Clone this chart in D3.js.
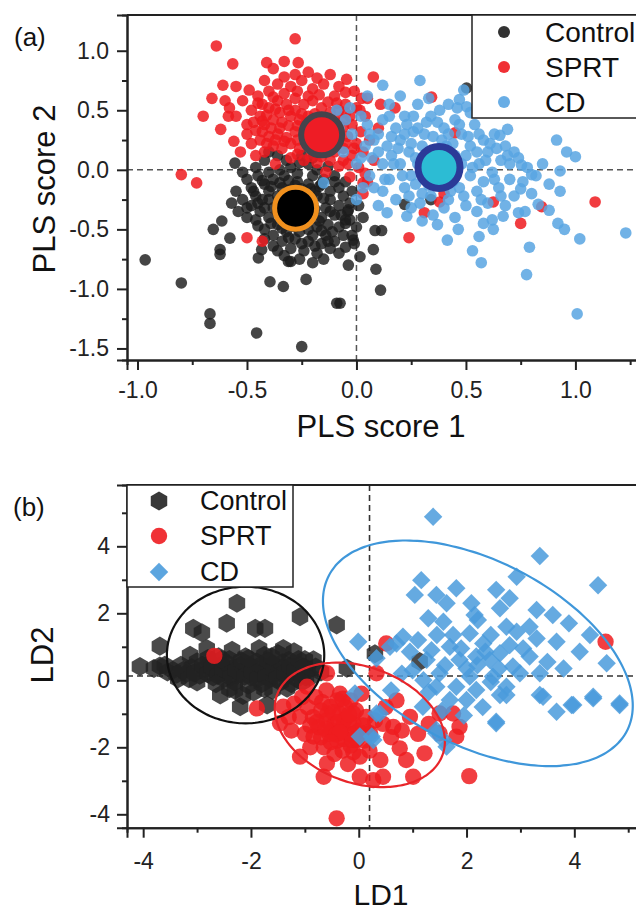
<!DOCTYPE html>
<html><head><meta charset="utf-8">
<script src="https://cdn.jsdelivr.net/npm/d3@7"></script>
<style>
html,body{margin:0;padding:0;background:#fff;}
svg{display:block;font-family:"Liberation Sans",Arial,sans-serif;}
</style></head>
<body><svg id="c" width="636" height="912"></svg>
<script>
// ---------------- DATA: panel (a) PLS scores ----------------
const groupsA = ["Control", "SPRT", "CD"];
const controlA = [
[-0.965,-0.756],[-0.80,-0.95],[-0.669,-1.21],[-0.669,-1.29],[-0.456,-1.37],[-0.25,-1.485],[-0.09,-1.12],
[-0.395,-0.94],[-0.334,-0.98],[-0.23,-0.92],[-0.037,-0.80],[0.016,-0.73],[-0.654,-0.50],[-0.615,-0.43],
[-0.578,-0.574],[-0.623,-0.67],[-0.623,-0.71],[-0.448,-0.74],[-0.433,-0.67],[-0.311,-0.77],[-0.555,0.056],
[-0.037,-0.336],[-0.03,-0.42],[-0.05,-0.45],[-0.015,-0.59],[0.085,-0.51],[0.115,-0.51],[0.077,-0.67],
[0.089,-0.835],[0.11,-1.01],[-0.075,-1.12],[0.503,0.687],[0.22,-0.29],[0.34,-0.25],
[-0.2,0.1],[-0.25,0.12],[-0.22,0.05],[-0.30,0.02],[-0.35,0.0],[-0.18,0.0],[-0.13,0.03],[-0.40,-0.02],
[-0.45,-0.05],[-0.50,-0.08],[-0.48,-0.15],[-0.42,-0.12],[-0.38,-0.08],[-0.33,-0.05],[-0.27,-0.03],
[-0.20,-0.05],[-0.15,-0.08],[-0.10,-0.05],[-0.05,-0.1],[-0.08,-0.15],[-0.12,-0.18],[-0.17,-0.14],
[-0.22,-0.12],[-0.28,-0.13],[-0.34,-0.15],[-0.40,-0.18],[-0.46,-0.22],[-0.52,-0.25],[-0.50,-0.32],
[-0.45,-0.28],[-0.40,-0.25],[-0.36,-0.22],[-0.30,-0.2],[-0.24,-0.2],[-0.18,-0.22],[-0.12,-0.25],
[-0.06,-0.22],[-0.03,-0.28],[-0.08,-0.3],[-0.14,-0.32],[-0.20,-0.28],[-0.26,-0.27],[-0.32,-0.3],
[-0.38,-0.32],[-0.44,-0.35],[-0.50,-0.4],[-0.46,-0.42],[-0.40,-0.4],[-0.34,-0.38],[-0.22,-0.38],
[-0.16,-0.4],[-0.10,-0.38],[-0.05,-0.42],[-0.08,-0.48],[-0.13,-0.46],[-0.18,-0.48],[-0.24,-0.45],
[-0.30,-0.44],[-0.36,-0.46],[-0.42,-0.5],[-0.38,-0.55],[-0.32,-0.52],[-0.26,-0.52],[-0.20,-0.55],
[-0.14,-0.55],[-0.10,-0.6],[-0.16,-0.62],[-0.22,-0.6],[-0.28,-0.58],[-0.34,-0.6],[-0.30,-0.66],
[-0.24,-0.68],[-0.18,-0.7],[-0.12,-0.66],[-0.05,-0.65],[-0.26,-0.75],[-0.20,-0.78],[-0.33,-0.72],
[-0.38,-0.64],[-0.02,-0.55],[-0.04,-0.35],[0.0,-0.48],[-0.40,0.15],[-0.36,0.12],[-0.42,0.08],
[-0.27,-0.10],[-0.31,-0.09],[-0.21,-0.16],[-0.25,-0.16],[-0.35,-0.11],[-0.43,-0.09],[-0.47,-0.18],
[-0.39,-0.14],[-0.31,-0.17],[-0.19,-0.18],[-0.15,-0.24],[-0.21,-0.24],[-0.27,-0.23],[-0.33,-0.25],
[-0.43,-0.25],[-0.48,-0.30],[-0.42,-0.32],[-0.36,-0.35],[-0.29,-0.35],[-0.19,-0.33],[-0.12,-0.35],
[-0.07,-0.38],[-0.17,-0.43],[-0.23,-0.42],[-0.33,-0.42],[-0.39,-0.45],[-0.45,-0.47],[-0.34,-0.49],
[-0.28,-0.48],[-0.22,-0.50],[-0.16,-0.51],[-0.11,-0.52],[-0.06,-0.55],[-0.25,-0.62],[-0.19,-0.64],
[-0.13,-0.60],[-0.31,-0.57],[-0.42,-0.58],[-0.08,-0.70],[-0.15,-0.75],[-0.36,-0.68],[-0.30,-0.77],
[-0.10,-0.10],[-0.16,-0.12],[-0.26,0.06],[-0.32,0.08],[-0.46,0.02],[-0.52,-0.02],[-0.55,-0.18],
[-0.54,-0.35],[-0.57,-0.28],[-0.02,-0.18],[0.01,-0.30],[-0.01,-0.62],[0.03,-0.40]
];
const sprtA = [
[-0.80,-0.04],[-0.73,-0.11],[-0.64,1.04],[-0.28,1.10],[-0.565,0.89],[-0.61,0.71],[-0.41,0.90],[-0.33,0.91],
[-0.266,0.90],[-0.50,-0.57],[-0.43,-0.60],[-0.62,0.34],[-0.585,0.45],[-0.56,0.24],
[0.077,0.78],[0.11,0.55],[0.176,0.52],[0.343,0.61],[0.45,0.31],[1.09,-0.27],[0.846,-0.31],[0.75,-0.45],
[0.625,-0.27],[0.31,-0.36],[0.24,-0.57],[0.38,-0.27],[0.40,-0.20],[0.024,0.60],[0.016,0.50],[-0.045,0.76],
[0.03,-0.20],[0.03,-0.11],
[-0.45,0.62],[-0.40,0.66],[-0.36,0.72],[-0.33,0.78],[-0.30,0.70],[-0.25,0.75],[-0.20,0.68],[-0.15,0.72],
[-0.10,0.62],[-0.05,0.55],[-0.48,0.50],[-0.44,0.45],[-0.40,0.52],[-0.36,0.58],[-0.32,0.55],[-0.28,0.60],
[-0.24,0.55],[-0.20,0.58],[-0.16,0.52],[-0.12,0.48],[-0.08,0.50],[-0.03,0.45],[-0.50,0.38],[-0.46,0.33],
[-0.42,0.38],[-0.38,0.42],[-0.34,0.40],[-0.30,0.45],[-0.26,0.42],[-0.22,0.45],[-0.18,0.40],[-0.14,0.38],
[-0.10,0.42],[-0.06,0.36],[-0.02,0.38],[0.02,0.32],[-0.48,0.22],[-0.44,0.25],[-0.40,0.28],[-0.36,0.30],
[-0.32,0.27],[-0.28,0.32],[-0.24,0.30],[-0.20,0.34],[-0.16,0.28],[-0.12,0.30],[-0.08,0.26],[-0.04,0.28],
[0.0,0.22],[-0.46,0.12],[-0.42,0.15],[-0.38,0.20],[-0.34,0.18],[-0.30,0.22],[-0.26,0.18],[-0.22,0.22],
[-0.18,0.16],[-0.14,0.20],[-0.10,0.15],[-0.06,0.18],[-0.02,0.12],[0.03,0.15],[-0.30,0.10],[-0.24,0.08],
[-0.18,0.06],[-0.12,0.08],[-0.08,0.03],[-0.04,0.05],[0.01,0.02],[0.04,-0.03],[-0.14,-0.02],[-0.03,-0.06],
[0.05,-0.10],[-0.52,0.58],[-0.55,0.45],[-0.38,0.85],[-0.22,0.82],[-0.12,0.80],[-0.08,0.70],[-0.28,0.50],
[-0.35,0.48],[-0.43,0.55],[0.04,0.45],[0.05,0.60],[-0.01,0.66],[-0.50,0.30],[-0.53,0.15],[-0.37,0.05],
[0.08,0.08],[0.06,0.25],[0.10,0.35],[-0.60,0.58],[-0.55,0.70],
[-0.43,0.41],[-0.39,0.35],[-0.35,0.35],[-0.31,0.37],[-0.27,0.37],[-0.23,0.39],[-0.19,0.47],[-0.25,0.47],
[-0.31,0.50],[-0.37,0.51],[-0.41,0.46],[-0.45,0.56],[-0.38,0.61],[-0.33,0.64],[-0.27,0.66],[-0.22,0.62],
[-0.17,0.63],[-0.13,0.57],[-0.09,0.56],[-0.05,0.48],[-0.06,0.42],[-0.11,0.35],[-0.15,0.33],[-0.41,0.22],
[-0.37,0.25],[-0.43,0.32],[-0.47,0.40],[-0.27,0.25],[-0.33,0.24],[-0.21,0.27],[-0.10,0.23],[-0.05,0.22],
[-0.16,0.11],[-0.21,0.11],[-0.27,0.13],[-0.06,0.08],[-0.01,0.18],[-0.58,0.52],[-0.49,0.67],[-0.42,0.75],
[-0.28,0.80],[-0.18,0.77],[-0.05,0.65],[0.00,0.52],[-0.70,0.45],[-0.66,0.60]
];
const cdA = [
[1.008,-1.21],[1.23,-0.53],[0.777,-0.88],[0.79,-0.65],[1.02,-0.58],[0.914,0.25],[0.96,0.15],[1.0,0.11],
[0.93,-0.01],[0.93,-0.18],[0.83,-0.29],[0.88,-0.34],[0.92,-0.45],[0.95,-0.50],[0.57,-0.78],[0.53,-0.68],
[0.415,-0.59],[0.465,-0.50],[0.29,0.75],[0.12,0.71],[0.69,0.34],[0.655,0.29],[0.754,0.04],[0.80,-0.04],
[0.74,-0.36],[0.77,-0.35],[0.67,-0.39],[0.625,-0.50],[0.56,-0.56],[0.14,-0.36],[0.23,-0.39],[0.30,-0.43],
[0.37,-0.46],[0.47,0.59],[0.49,0.67],[0.503,0.53],
[-0.09,0.50],[-0.03,0.52],[-0.15,-0.11],[0.0,-0.25],[-0.05,0.42],[-0.02,0.30],[0.02,0.45],[0.05,0.38],
[0.04,0.20],[0.07,0.10],[0.06,-0.05],[0.08,-0.15],[0.10,0.30],[0.12,0.42],[0.14,0.20],[0.12,0.05],
[0.15,-0.08],[0.16,0.12],[0.18,0.35],[0.20,0.25],[0.20,0.05],[0.22,-0.15],[0.22,0.45],[0.24,0.15],
[0.25,-0.05],[0.26,0.32],[0.28,0.55],[0.28,0.05],[0.30,0.20],[0.30,-0.20],[0.32,0.40],[0.32,-0.05],
[0.34,0.12],[0.35,0.28],[0.36,-0.12],[0.38,0.50],[0.38,0.18],[0.40,-0.02],[0.40,0.35],[0.42,0.10],
[0.42,-0.25],[0.44,0.22],[0.45,0.42],[0.46,0.0],[0.47,-0.15],[0.48,0.30],[0.50,0.12],[0.50,-0.30],
[0.52,0.20],[0.52,-0.05],[0.54,0.38],[0.55,-0.18],[0.56,0.05],[0.58,0.25],[0.58,-0.10],[0.60,0.15],
[0.60,-0.28],[0.62,-0.02],[0.63,0.30],[0.65,-0.15],[0.66,0.08],[0.68,0.20],[0.70,-0.08],[0.72,-0.22],
[0.74,0.10],[0.76,-0.10],[0.78,0.02],[0.80,-0.20],[0.82,-0.05],[0.85,0.05],[0.88,-0.12],[0.18,-0.25],
[0.25,-0.32],[0.35,-0.38],[0.45,-0.40],[0.55,-0.35],[0.62,-0.42],[0.10,-0.30],[0.15,0.55],[0.20,0.62],
[0.33,0.60],[0.42,0.55],[0.05,0.62],[0.26,0.45],[0.15,0.45],[0.08,0.25],[0.30,0.10],[0.44,-0.10],
[0.36,0.05],[0.48,0.05],[0.27,-0.12],[0.56,0.30],[0.64,0.18],[0.70,0.05],[0.52,0.48],[0.46,0.52],
[0.34,-0.22],[0.40,-0.32],[0.58,-0.45],[0.68,-0.30],[0.22,0.30],[0.12,-0.18],[-0.06,0.15],[-0.08,0.35],
[0.0,0.05],[0.03,-0.15],
[0.17,0.05],[0.19,0.18],[0.21,-0.05],[0.23,0.38],[0.25,0.22],[0.27,0.10],[0.29,-0.28],[0.31,0.30],
[0.33,-0.13],[0.37,0.40],[0.39,0.25],[0.41,0.20],[0.43,-0.18],[0.45,0.12],[0.47,0.38],[0.49,-0.22],
[0.51,0.28],[0.53,0.02],[0.55,0.15],[0.57,-0.25],[0.59,0.08],[0.61,0.22],[0.63,-0.08],[0.66,-0.22],
[0.69,0.12],[0.72,0.15],[0.75,-0.16],[0.10,0.15],[0.13,-0.08],[0.06,0.30],[0.02,0.10],[0.16,0.28],
[0.24,-0.22],[0.34,0.45],[0.28,0.35],[0.42,0.30]
];
// group centroids (x, y)
const centroidsA = [[-0.278,-0.322],[-0.159,0.294],[0.377,0.02]];
const xTicksA = [-1.0,-0.5,0.0,0.5,1.0];
const xMinorA = [-0.75,-0.25,0.25,0.75,1.25];
const yTicksA = [-1.5,-1.0,-0.5,0.0,0.5,1.0];
const yMinorA = [-1.25,-0.75,-0.25,0.25,0.75];

// ---------------- DATA: panel (b) LDA ----------------
const groupsB = ["Control", "SPRT", "CD"];
const controlB = [
[-4.06,0.41],[-3.69,0.43],[-3.69,1.02],[-3.07,1.55],[-2.91,1.42],[-2.26,2.30],[-2.45,1.70],[-1.92,1.55],
[-1.74,1.55],[-1.09,1.90],[-0.41,1.65],[-3.13,0.75],[-2.82,0.95],[-2.57,-0.44],[-2.20,-0.79],[-1.70,-0.74],
[-1.33,-0.24],[-0.84,0.61],[-0.22,0.36],[0.30,0.79],[1.13,0.56],
[-3.45,0.30],[-3.30,0.45],[-3.20,0.20],[-3.10,0.38],[-3.00,0.55],[-2.95,0.15],[-2.85,0.35],[-2.75,0.50],
[-2.70,0.10],[-2.65,0.28],[-2.55,0.45],[-2.50,0.05],[-2.45,0.22],[-2.40,0.62],[-2.35,0.35],[-2.30,-0.05],
[-2.25,0.15],[-2.20,0.45],[-2.15,0.28],[-2.10,0.70],[-2.05,-0.15],[-2.00,0.10],[-1.95,0.38],[-1.90,0.55],
[-1.85,0.20],[-1.80,-0.10],[-1.75,0.75],[-1.70,0.30],[-1.65,0.05],[-1.60,0.48],[-1.55,0.22],[-1.50,0.80],
[-1.45,-0.05],[-1.40,0.38],[-1.35,0.12],[-1.30,0.60],[-1.25,0.28],[-1.20,0.85],[-1.15,0.05],[-1.10,0.45],
[-1.05,0.20],[-1.00,0.62],[-0.95,0.30],[-0.90,0.10],[-0.80,0.40],[-0.70,0.25],[-2.60,0.70],[-2.80,0.65],
[-3.00,-0.05],[-2.40,-0.25],[-1.95,-0.35],[-1.60,-0.30],[-2.15,-0.45],[-1.85,0.95],[-2.35,0.90],[-1.40,0.95],
[-3.35,0.05],[-3.55,0.25],
[-3.38,0.18],[-3.25,0.30],[-3.15,0.05],[-3.05,0.22],[-2.90,0.45],[-2.80,0.20],[-2.72,0.38],[-2.62,0.15],
[-2.52,0.32],[-2.42,0.48],[-2.38,0.10],[-2.28,0.30],[-2.18,0.58],[-2.12,0.12],[-2.02,0.42],[-1.98,0.25],
[-1.88,0.05],[-1.82,0.45],[-1.72,0.12],[-1.68,0.58],[-1.58,0.32],[-1.52,0.05],[-1.42,0.52],[-1.38,0.22],
[-1.28,0.42],[-1.18,0.30],[-1.12,0.62],[-1.02,0.40],[-0.98,0.10],[-2.55,0.62],[-2.05,0.65],[-1.62,0.70],
[-1.75,-0.25],[-2.30,-0.30],[-2.65,-0.10],[-3.60,0.45],[-3.80,0.35],[-1.25,-0.10],[-1.05,-0.05]
];
const sprtB = [
[-0.41,-4.12],[2.05,-2.86],[4.58,1.15],[-2.68,0.73],[-1.89,-0.84],[-1.46,-1.28],[-1.40,-0.79],[-1.09,-1.09],
[-1.09,-2.28],[-0.65,-2.88],[-0.59,-2.48],[0.02,-2.88],[-0.84,-1.68],[-0.47,-1.58],[-0.28,-1.19],[-0.53,-0.79],
[-0.96,-0.19],[-0.59,0.21],[-0.10,-0.99],[-0.04,-1.78],[0.02,-2.28],[0.21,-1.58],[0.40,-2.38],[0.27,-2.98],
[0.51,1.10],[0.14,-1.09],[0.64,-1.39],[0.95,-1.09],[1.50,-0.99],[1.75,-0.99],[1.87,-1.39],[1.81,-1.68],
[1.22,-2.18],[0.76,-2.03],[0.88,-2.38],[0.45,-2.88],[1.01,-2.88],[1.50,-1.58],[0.33,0.21],
[-0.80,-0.50],[-0.70,-0.90],[-0.60,-1.20],[-0.50,-1.50],[-0.40,-1.80],[-0.30,-1.40],[-0.20,-1.60],
[-0.10,-1.30],[0.0,-1.50],[-0.25,-0.80],[-0.35,-1.00],[-0.45,-1.30],[-0.55,-1.60],[-0.65,-2.00],
[-0.75,-1.40],[-0.85,-1.10],[-0.95,-0.80],[-1.05,-0.50],[-1.20,-0.70],[-0.15,-0.60],[-0.05,-0.90],
[0.10,-1.80],[0.20,-2.10],[0.30,-1.20],[-0.30,-2.10],[-0.20,-2.50],[-0.45,-2.20],[-0.15,-1.95],
[-0.70,-1.70],[-0.90,-2.00],[-1.25,-1.50],[-0.35,-0.40],[-0.60,-0.30],[0.05,-0.40],[0.50,-0.80],
[0.60,-1.70],[0.80,-1.50],[-0.25,-1.15],[-0.40,-0.60],[-1.30,-1.10],[-0.10,-2.15],[1.10,-1.60],
[0.45,-1.30],[0.70,-0.60],[1.30,-1.30],
[-0.58,-1.00],[-0.48,-0.95],[-0.38,-1.25],[-0.18,-1.25],[-0.08,-1.60],[0.08,-1.35],[-0.62,-1.45],
[-0.42,-1.62],[-0.28,-1.75],[-0.12,-1.78],[-0.35,-1.55],[-0.52,-1.85],[-0.78,-1.25],[-0.18,-1.02],
[0.15,-1.55],[-0.68,-0.65],[-0.90,-1.35],[-1.00,-1.60],[-0.30,-0.55]
];
const cdB = [
[1.38,4.88],[3.36,3.71],[4.44,2.84],[2.93,3.09],[1.16,2.99],[1.04,2.55],[1.44,2.55],[1.81,2.75],[2.55,2.70],
[2.09,2.30],[2.62,2.15],[3.60,1.95],[1.63,2.30],[1.29,1.85],[1.57,1.75],[2.21,1.80],[2.74,1.60],[3.17,1.60],
[2.93,1.45],[3.67,1.15],[4.29,1.35],[4.60,0.51],[4.84,-0.74],[4.35,-0.54],[3.98,-0.74],[3.67,-0.94],
[3.42,-0.49],[2.55,-1.24],[2.62,-0.44],[3.36,0.21],[3.17,0.71],[0.82,1.30],[0.58,1.00],[0.95,0.85],
[1.26,0.61],[1.69,1.00],[2.06,1.40],[2.31,1.10],[2.62,0.81],[1.87,0.61],[2.18,0.71],[1.50,0.21],[2.06,0.11],
[1.44,-0.19],[1.81,-0.19],[2.18,-0.29],[1.69,-0.59],[2.0,-0.59],[1.19,-0.79],[1.57,-1.78],[1.44,-1.48],
[0.39,-0.99],[0.27,-1.78],[0.02,-1.68],[2.86,0.41],[2.99,0.21],[2.43,0.61],[2.49,0.11],[2.74,-0.19],
[-0.01,1.15],[0.70,1.10],[0.33,0.66],[-0.07,-0.39],[0.33,-0.99],[0.24,-1.68],[2.55,-1.28],[2.74,-0.44],
[3.36,-0.44],[3.95,-0.74],[4.35,-0.49],[4.84,-0.69],[1.44,-1.58],[1.63,-1.98],
[1.0,0.30],[1.2,0.0],[1.1,1.2],[1.35,0.9],[1.6,0.45],[1.75,1.35],[1.9,0.95],[2.0,0.35],[2.2,0.45],
[2.35,0.85],[2.45,1.35],[2.6,0.35],[2.8,1.05],[3.05,0.95],[3.3,1.25],[3.5,0.55],[3.8,0.35],[4.1,0.85],
[1.3,-0.35],[1.55,-0.9],[2.3,-0.8],[0.8,0.2],[0.6,-0.3],[2.15,1.95],[2.8,2.45],[3.9,1.7],[3.3,2.1],
[1.45,1.35],[2.45,-0.05],[1.95,-1.05]
];
// confidence ellipses: centre [x,y], conjugate semi-axis vectors u, v (data units)
const ellipseCentres = [[-2.10,0.755],[0.02,-1.33],[2.21,0.806]];
const ellipseU = [[1.46,0],[1.535,-0.899],[2.763,-2.325]];
const ellipseV = [[0,2.04],[-0.368,-1.627],[-0.792,-2.436]];
const refLinesB = [0.2, 0.13]; // vertical LD1, horizontal LD2
const xTicksB = [-4,-2,0,2,4];
const xMinorB = [-3,-1,1,3,5];
const yTicksB = [-4,-2,0,2,4];
const yMinorB = [-3,-1,1,3,5];

// ---------------- DRAWING ----------------
const svg = d3.select("#c");
const colA = ["#1c1c1c","#ee1a1f","#58a4e2"];
const colB = ["#222222","#ee1c20","#4a9bdc"];
const fmt1 = v => d3.format(".1f")(v).replace("\u2212","-");
const fmt0 = v => d3.format("d")(v).replace("\u2212","-");

function axes(g, x, y, xt, xm, yt, ym, f, xpad, ypad){
  const xa = g.append("g").attr("transform",`translate(0,${y.range()[0]})`)
    .call(d3.axisBottom(x).tickValues(xt).tickFormat(f).tickSize(10).tickPadding(xpad));
  const xm2 = g.append("g").attr("transform",`translate(0,${y.range()[0]})`)
    .call(d3.axisBottom(x).tickValues(xm).tickFormat("").tickSize(5));
  const ya = g.append("g").attr("transform",`translate(${x.range()[0]},0)`)
    .call(d3.axisLeft(y).tickValues(yt).tickFormat(f).tickSize(10).tickPadding(ypad));
  const ym2 = g.append("g").attr("transform",`translate(${x.range()[0]},0)`)
    .call(d3.axisLeft(y).tickValues(ym).tickFormat("").tickSize(5));
  [xa,xm2,ya,ym2].forEach(a=>{
    a.select(".domain").attr("stroke","#222").attr("stroke-width",2);
    a.selectAll(".tick line").attr("stroke","#222").attr("stroke-width",2);
    a.selectAll("text").attr("font-size",23).attr("fill","#222")
      .attr("font-family","'Liberation Sans',Arial,sans-serif");
  });
  g.append("line").attr("x1",x.range()[0]).attr("x2",x.range()[1])
    .attr("y1",y.range()[1]).attr("y2",y.range()[1]).attr("stroke","#222").attr("stroke-width",2);
}

// ===== Panel (a)
const xA = d3.scaleLinear().domain([-1.048,1.295]).range([127,640]);
const yA = d3.scaleLinear().domain([-1.597,1.30]).range([360,15]);
const gA = svg.append("g");
gA.append("line").attr("x1",xA(0)).attr("x2",xA(0)).attr("y1",yA.range()[1]).attr("y2",yA.range()[0])
  .attr("stroke","#555").attr("stroke-width",1.5).attr("stroke-dasharray","6,4");
gA.append("line").attr("x1",xA.range()[0]).attr("x2",xA.range()[1]).attr("y1",yA(0)).attr("y2",yA(0))
  .attr("stroke","#555").attr("stroke-width",1.5).attr("stroke-dasharray","6,4");
[controlA, sprtA, cdA].forEach((pts,i)=>{
  gA.append("g").selectAll("circle").data(pts).join("circle")
    .attr("cx",d=>xA(d[0])).attr("cy",d=>yA(d[1])).attr("r",5.8)
    .attr("fill",colA[i]).attr("fill-opacity",i===0?0.82:0.85);
});
const cFill = ["#000000","#ee1c25","#2cbcd4"];
const cStroke = ["#f0901e","#44444c","#2b3a98"];
const cR = [21,20.5,21];
const cW = [5,6,7];
gA.append("g").selectAll("circle").data(centroidsA).join("circle")
  .attr("cx",d=>xA(d[0])).attr("cy",d=>yA(d[1])).attr("r",(d,i)=>cR[i])
  .attr("fill",(d,i)=>cFill[i]).attr("stroke",(d,i)=>cStroke[i]).attr("stroke-width",(d,i)=>cW[i]);
axes(gA, xA, yA, xTicksA, xMinorA, yTicksA, yMinorA, fmt1, 12, 8);
const lgA = gA.append("g");
lgA.append("rect").attr("x",472).attr("y",15).attr("width",200).attr("height",103)
  .attr("fill","#fff").attr("stroke","#222").attr("stroke-width",1.5);
groupsA.forEach((name,i)=>{
  const yy = [32,67,102][i];
  lgA.append("circle").attr("cx",504).attr("cy",yy).attr("r",6).attr("fill",colA[i]).attr("fill-opacity",0.9);
  lgA.append("text").attr("x",545).attr("y",yy+10).attr("font-size",28).attr("fill","#111").text(name);
});
svg.append("text").attr("x",14).attr("y",46).attr("font-size",26).attr("fill","#111").text("(a)");
svg.append("text").attr("transform","translate(55,189) rotate(-90)").attr("text-anchor","middle")
  .attr("font-size",31).attr("fill","#111").text("PLS score 2");
svg.append("text").attr("x",381).attr("y",437).attr("text-anchor","middle")
  .attr("font-size",31).attr("fill","#111").text("PLS score 1");

// ===== Panel (b)
const xB = d3.scaleLinear().domain([-4.30,5.20]).range([127,639]);
const yB = d3.scaleLinear().domain([-4.40,5.83]).range([827.7,485]);
const gB = svg.append("g");
gB.append("line").attr("x1",xB(refLinesB[0])).attr("x2",xB(refLinesB[0])).attr("y1",yB.range()[1]).attr("y2",yB.range()[0])
  .attr("stroke","#333").attr("stroke-width",1.6).attr("stroke-dasharray","6,4");
gB.append("line").attr("x1",xB.range()[0]).attr("x2",xB.range()[1]).attr("y1",yB(refLinesB[1])).attr("y2",yB(refLinesB[1]))
  .attr("stroke","#333").attr("stroke-width",1.6).attr("stroke-dasharray","6,4");
const hexagon = { draw(ctx, size){ const r = Math.sqrt(size*2/(3*Math.sqrt(3)));
  for(let k=0;k<6;k++){ const a = Math.PI/2 + k*Math.PI/3; const px=r*Math.cos(a), py=r*Math.sin(a);
    if(k===0) ctx.moveTo(px,py); else ctx.lineTo(px,py);} ctx.closePath(); } };
const squareDiamond = { draw(ctx, size){ const h = Math.sqrt(size/2);
  ctx.moveTo(0,-h); ctx.lineTo(h,0); ctx.lineTo(0,h); ctx.lineTo(-h,0); ctx.closePath(); } };
const symB = [d3.symbol().type(hexagon).size(235), d3.symbol().type(d3.symbolCircle).size(210),
              d3.symbol().type(squareDiamond).size(170)];
[controlB, sprtB, cdB].forEach((pts,i)=>{
  gB.append("g").selectAll("path").data(pts).join("path")
    .attr("transform",d=>`translate(${xB(d[0])},${yB(d[1])})`).attr("d",symB[i]())
    .attr("fill",colB[i]).attr("fill-opacity",i===0?0.82:0.85);
});
const eCol = ["#111111","#e8252a","#3f97da"];
ellipseCentres.forEach((c,i)=>{
  const pts = d3.range(0,360,3).map(t=>{ const a=t*Math.PI/180;
    return [xB(c[0]+ellipseU[i][0]*Math.cos(a)+ellipseV[i][0]*Math.sin(a)),
            yB(c[1]+ellipseU[i][1]*Math.cos(a)+ellipseV[i][1]*Math.sin(a))]; });
  gB.append("path").attr("d",d3.line().curve(d3.curveCardinalClosed)(pts))
    .attr("fill","none").attr("stroke",eCol[i]).attr("stroke-width",2.2);
});
axes(gB, xB, yB, xTicksB, xMinorB, yTicksB, yMinorB, fmt0, 15, 7);
const lgB = gB.append("g");
lgB.append("rect").attr("x",127).attr("y",485).attr("width",166).attr("height",102)
  .attr("fill","#fff").attr("stroke","#222").attr("stroke-width",1.5);
groupsB.forEach((name,i)=>{
  const yy = [501,536,572][i];
  lgB.append("path").attr("transform",`translate(159,${yy})`).attr("d",symB[i]())
    .attr("fill",colB[i]).attr("fill-opacity",0.9);
  lgB.append("text").attr("x",200).attr("y",yy+9).attr("font-size",27).attr("fill","#111").text(name);
});
svg.append("text").attr("x",13).attr("y",516).attr("font-size",26).attr("fill","#111").text("(b)");
svg.append("text").attr("transform","translate(53,655) rotate(-90)").attr("text-anchor","middle")
  .attr("font-size",31).attr("fill","#111").text("LD2");
svg.append("text").attr("x",381).attr("y",905).attr("text-anchor","middle")
  .attr("font-size",30).attr("fill","#111").text("LD1");
</script></body></html>
